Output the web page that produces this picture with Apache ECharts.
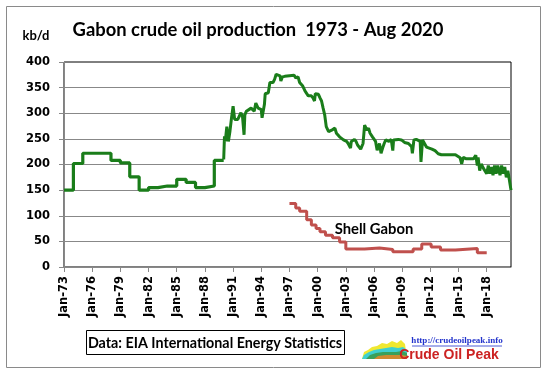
<!DOCTYPE html>
<html>
<head>
<meta charset="utf-8">
<script src="https://cdn.jsdelivr.net/npm/echarts@6/dist/echarts.min.js"></script>
<style>
html,body{margin:0;padding:0;background:#fff;}
#chart{width:549px;height:379px;}
</style>
</head>
<body>
<div id="chart"></div>
<script>
// ---- data ----
const xTickLabels = ['Jan-73','Jan-76','Jan-79','Jan-82','Jan-85','Jan-88','Jan-91','Jan-94','Jan-97','Jan-00','Jan-03','Jan-06','Jan-09','Jan-12','Jan-15','Jan-18'];
const yTicks = [0,50,100,150,200,250,300,350,400];

// Gabon production, annual (1973-1989)
const gabonAnnualYears  = [1973,1974,1975,1976,1977,1978,1979,1980,1981,1982,1983,1984,1985,1986,1987,1988,1989];
const gabonAnnualValues = [150, 202, 222, 222, 222, 208, 203, 176, 150, 155, 158, 158, 171, 165, 155, 158, 208];

// Gabon production, monthly (1990 - Aug 2020)
const gabonMonthlyDates = ['1990-01','1990-02','1990-03','1990-05','1990-07','1990-09','1990-11','1991-01','1991-03','1991-05','1991-07','1991-09','1991-11','1992-01','1992-03','1992-04','1992-06','1992-08','1992-12','1993-04','1993-06','1993-09','1994-01','1994-02','1994-05','1994-06','1994-10','1994-12','1995-04','1995-06','1995-08','1996-01','1996-02','1996-04','1996-07','1997-01','1997-07','1997-09','1997-12','1998-02','1998-04','1998-06','1998-09','1998-11','1999-01','1999-05','1999-07','1999-09','1999-10','2000-02','2000-04','2000-06','2000-08','2000-10','2000-12','2001-03','2001-07','2001-11','2002-01','2002-05','2002-10','2003-02','2003-04','2003-06','2003-07','2003-08','2003-12','2004-02','2004-04','2004-08','2004-11','2005-01','2005-04','2005-06','2005-08','2005-11','2006-03','2006-05','2006-08','2006-10','2006-12','2007-02','2007-04','2007-08','2007-11','2007-12','2008-01','2008-02','2008-08','2008-12','2009-04','2009-09','2010-01','2010-02','2010-04','2010-07','2010-12','2011-01','2011-03','2011-08','2012-03','2012-07','2012-11','2013-03','2014-09','2014-11','2015-03','2015-05','2015-07','2015-11','2016-08','2016-11','2017-01','2017-02','2017-04','2017-06','2017-09','2017-11','2018-01','2018-03','2018-05','2018-07','2018-09','2018-11','2019-01','2019-03','2019-06','2019-08','2019-10','2019-12','2020-02','2020-04','2020-06','2020-08'];
const gabonMonthlyValues = [210,255,245,274,245,265,291,314,288,291,288,291,301,294,258,297,304,301,310,304,320,310,307,291,317,338,340,360,360,366,376,373,363,371,372,373,374,369,371,360,363,353,343,340,334,334,330,324,338,337,330,324,310,297,274,264,267,271,261,254,248,245,241,241,232,245,249,245,238,230,241,277,267,271,261,254,245,228,241,222,232,241,248,245,249,248,227,248,249,248,243,241,235,222,248,249,245,205,248,234,230,227,221,219,219,218,213,201,214,211,211,218,198,214,188,201,192,195,182,198,182,195,179,198,182,198,179,198,182,195,175,188,185,150];

// Shell Gabon
const shellDates  = ['1997-01','1997-09','1998-02','1998-11','1999-05','1999-11','2000-04','2000-11','2001-08','2002-05','2003-01','2005-01','2006-08','2008-01','2010-03','2011-02','2012-02','2013-02','2014-09','2017-01','2018-01'];
const shellValues = [124,115,109,92,82,75,69,62,57,49,35,37,34,30,35,45,39,33,36,28,27];

// ---- helpers ----
function toMonth(s){ const p = s.split('-').map(Number); return (p[0]-1973)*12 + (p[1]-1); }
const annualData = gabonAnnualYears.map((y,i)=>[(y-1973)*12, gabonAnnualValues[i]]);
annualData.push([(1990-1973)*12, gabonAnnualValues[gabonAnnualValues.length-1]]);
const monthlyData = gabonMonthlyDates.map((d,i)=>[toMonth(d), gabonMonthlyValues[i]]);
const shellData = shellDates.map((d,i)=>[toMonth(d), shellValues[i]]);
const xTickPos = xTickLabels.map((l,i)=>i*36);
const xMax = toMonth('2020-08');

const GREEN = '#1a7d1a';
const RED = '#c0504d';
const chart = echarts.init(document.getElementById('chart'));
chart.setOption({
  backgroundColor:'#fff',
  animation:false,
  grid:{left:64, right:38, top:62, bottom:112, show:true, borderColor:'#000', borderWidth:1, backgroundColor:'transparent'},
  xAxis:{
    type:'value', min:0, max:xMax,
    axisLine:{show:true, onZero:false, lineStyle:{color:'#888', width:1}},
    axisTick:{show:true, length:5, customValues:xTickPos, lineStyle:{color:'#888'}},
    axisLabel:{customValues:xTickPos, rotate:90, margin:9, color:'#000', fontWeight:'bold', fontSize:11.5, fontFamily:'DejaVu Sans',
      formatter:(v)=>xTickLabels[Math.round(v/36)] || ''},
    splitLine:{show:false}
  },
  yAxis:{
    type:'value', min:0, max:400, interval:50,
    axisLine:{show:true, lineStyle:{color:'#888', width:1}},
    axisTick:{show:true, length:5, lineStyle:{color:'#888'}},
    axisLabel:{margin:14, color:'#000', fontWeight:'bold', fontSize:11.5, fontFamily:'DejaVu Sans'},
    splitLine:{show:true, showMaxLine:false, lineStyle:{color:'#888', width:1}}
  },
  series:[
    {type:'line', data:annualData, step:'end', symbol:'none', lineStyle:{color:GREEN, width:3.2}, z:3},
    {type:'line', data:monthlyData, symbol:'none', lineStyle:{color:GREEN, width:3}, z:3},
    {type:'line', data:shellData, step:'end', symbol:'none', lineStyle:{color:RED, width:3}, z:2}
  ],
  graphic:[
    {type:'rect', shape:{x:6.5,y:6.5,width:534,height:361}, style:{fill:'none', stroke:'#8a8a8a', lineWidth:1}, silent:true, z:-1},
    {type:'text', x:258, y:30, style:{text:'Gabon crude oil production  1973 - Aug 2020', font:'bold 18.4px Lato', fill:'#000', textAlign:'center', textVerticalAlign:'middle'}},
    {type:'text', x:36, y:36, style:{text:'kb/d', font:'bold 13px Lato', fill:'#000', textAlign:'center', textVerticalAlign:'middle'}},
    {type:'text', x:374, y:229, style:{text:'Shell Gabon', font:'bold 14.8px Lato', fill:'#000', textAlign:'center', textVerticalAlign:'middle'}},
    {type:'rect', shape:{x:86.5,y:330.5,width:258,height:24}, style:{fill:'#fff', stroke:'#000', lineWidth:1}},
    {type:'text', x:215, y:343, style:{text:'Data: EIA International Energy Statistics', font:'bold 14.3px Lato', fill:'#000', textAlign:'center', textVerticalAlign:'middle'}},
    {type:'polygon', shape:{points:[[362,359],[364,352],[368,350],[372,347],[377,346],[382,343],[387,344],[392,341],[397,343],[401,340],[405,344],[407,359]]}, style:{fill:'#f0e830'}},
    {type:'polygon', shape:{points:[[362,359],[364,355],[369,352],[374,350],[380,349],[386,348],[392,347],[398,348],[403,347],[407,350],[407,359]]}, style:{fill:'#3fd0d0'}},
    {type:'polygon', shape:{points:[[366,359],[370,355],[376,353],[383,352],[390,352],[396,352],[402,351],[407,353],[407,359]]}, style:{fill:'#3aa05a'}},
    {type:'polygon', shape:{points:[[374,359],[378,356],[386,355],[394,355],[402,355],[407,356],[407,359]]}, style:{fill:'#d08a30'}},
    {type:'text', x:457, y:341, style:{text:'http://crudeoilpeak.info', font:'bold 9px "Liberation Serif"', fill:'#2233cc', textAlign:'center', textVerticalAlign:'middle'}},
    {type:'line', shape:{x1:412, y1:346, x2:502, y2:346}, style:{stroke:'#2233cc', lineWidth:0.8}},
    {type:'text', x:449, y:355, style:{text:'Crude Oil Peak', font:'bold 14px "Liberation Sans"', fill:'#cc2222', textAlign:'center', textVerticalAlign:'middle'}}
  ]
});
</script>
</body>
</html>
